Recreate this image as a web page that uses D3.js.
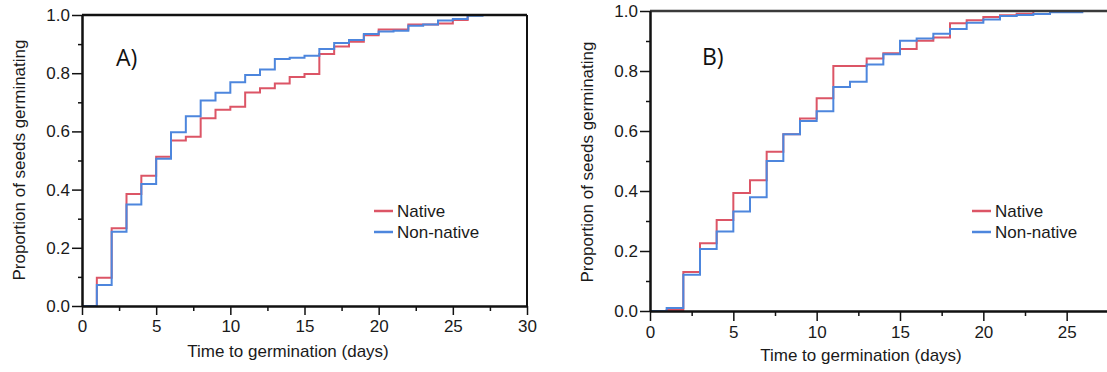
<!DOCTYPE html>
<html>
<head>
<meta charset="utf-8">
<script src="https://cdn.jsdelivr.net/npm/d3@7"></script>
<style>
body { margin: 0; background: #fff; }
text { font-family: "Liberation Sans", Arial, sans-serif; }
</style>
</head>
<body>
<div id="chart"></div>
<script>
// proportion germinated, value holds from day i to day i+1
var daysA = [0,1,2,3,4,5,6,7,8,9,10,11,12,13,14,15,16,17,18,19,20,21,22,23,24,25,26,27];
var nativeA = [0, 0.097, 0.267, 0.385, 0.448, 0.513, 0.569, 0.582, 0.645, 0.674, 0.685, 0.734, 0.748, 0.765, 0.787, 0.797, 0.866, 0.892, 0.908, 0.930, 0.950, 0.950, 0.967, 0.967, 0.971, 0.983, 1.0];
var nonNativeA = [0, 0.072, 0.255, 0.349, 0.419, 0.506, 0.597, 0.652, 0.706, 0.733, 0.769, 0.794, 0.813, 0.849, 0.853, 0.860, 0.883, 0.904, 0.914, 0.935, 0.943, 0.946, 0.963, 0.967, 0.981, 0.986, 0.997, 1.0];
var nativeB = [0, 0.003, 0.130, 0.226, 0.303, 0.393, 0.436, 0.531, 0.589, 0.642, 0.709, 0.817, 0.817, 0.842, 0.859, 0.873, 0.901, 0.912, 0.959, 0.969, 0.980, 0.986, 0.991, 1.0];
var nonNativeB = [0, 0.010, 0.121, 0.207, 0.265, 0.332, 0.379, 0.500, 0.589, 0.633, 0.666, 0.747, 0.764, 0.822, 0.856, 0.901, 0.908, 0.924, 0.940, 0.961, 0.972, 0.983, 0.987, 0.990, 0.996, 0.996];

var xMajor = [0, 5, 10, 15, 20, 25, 30];
var xMinor = [2.5, 7.5, 12.5, 17.5, 22.5, 27.5];
var yMajor = [0, 0.2, 0.4, 0.6, 0.8, 1.0];
var yMinor = [0.1, 0.3, 0.5, 0.7, 0.9];
var seriesNames = ["Native", "Non-native"];
var colors = ["#dc5566", "#4d86dd"];

var W = 1107, H = 372;
var svg = d3.select('#chart').append('svg').attr('width', W).attr('height', H);

function steps(vals) {
  var pts = vals.map(function(v, i) { return [daysA[i], v]; });
  pts.push([daysA[vals.length - 1] + 1, vals[vals.length - 1]]);
  return pts;
}

function panel(opt) {
  var g = svg.append('g');
  var x = d3.scaleLinear().domain([0, 30]).range(opt.xr);
  var y = d3.scaleLinear().domain([0, 1]).range(opt.yr);
  var line = d3.line().x(function(d) { return x(d[0]); }).y(function(d) { return y(d[1]); }).curve(d3.curveStepAfter);
  // B runs past the right edge of the page, only keep ticks that show
  var inView = function(d) { return x(d) < W - 8; };

  [opt.native, opt.nonNative].forEach(function(vals, i) {
    g.append('path').datum(steps(vals))
      .attr('d', line)
      .attr('fill', 'none')
      .attr('stroke', colors[i])
      .attr('stroke-width', 2);
  });

  // frame top (and right in A)
  g.append('line').attr('x1', x(0)).attr('x2', Math.min(x(30), W)).attr('y1', y(1)).attr('y2', y(1))
    .attr('stroke', opt.topColor).attr('stroke-width', 2.5);
  if (opt.rightLine) {
    g.append('line').attr('x1', x(30)).attr('x2', x(30)).attr('y1', y(1)).attr('y2', y(0))
      .attr('stroke', '#111').attr('stroke-width', 2);
  }

  // axes
  g.append('g').attr('transform', 'translate(0,' + y(0) + ')')
    .call(d3.axisBottom(x).tickValues(xMajor.filter(inView)).tickSize(opt.xTick).tickSizeOuter(0).tickPadding(5).tickFormat(d3.format('d')));
  g.append('g').attr('transform', 'translate(0,' + y(0) + ')')
    .call(d3.axisBottom(x).tickValues(xMinor.filter(inView)).tickSize(5).tickSizeOuter(0).tickFormat(''));
  g.append('g').attr('transform', 'translate(' + x(0) + ',0)')
    .call(d3.axisLeft(y).tickValues(yMajor).tickSize(10).tickSizeOuter(0).tickPadding(2).tickFormat(d3.format('.1f')));
  g.append('g').attr('transform', 'translate(' + x(0) + ',0)')
    .call(d3.axisLeft(y).tickValues(yMinor).tickSize(4).tickSizeOuter(0).tickFormat(''));
  g.selectAll('.domain').attr('stroke', '#111').attr('stroke-width', 2);
  g.selectAll('.tick line').attr('stroke', '#111').attr('stroke-width', 1.5);
  g.selectAll('.tick text').attr('fill', '#1a1a1a').style('font-size', '17px').style('font-family', '"Liberation Sans", Arial, sans-serif');

  // titles
  g.append('text').attr('x', opt.xTitle[0]).attr('y', opt.xTitle[1])
    .attr('text-anchor', 'middle').style('font-size', '17px').attr('fill', '#1a1a1a')
    .text('Time to germination (days)');
  g.append('text').attr('transform', 'translate(' + opt.yTitle[0] + ',' + opt.yTitle[1] + ') rotate(-90)')
    .attr('text-anchor', 'middle').style('font-size', '17px').attr('fill', '#1a1a1a')
    .text('Proportion of seeds germinating');
  g.append('text').attr('x', opt.label[0]).attr('y', opt.label[1])
    .style('font-family', '"Open Sans", sans-serif').style('font-size', '23px').attr('fill', '#111')
    .text(opt.name);

  // legend
  seriesNames.forEach(function(n, i) {
    var ly = opt.legend[1] + i * 21;
    g.append('line').attr('x1', opt.legend[0]).attr('x2', opt.legend[0] + 19).attr('y1', ly).attr('y2', ly)
      .attr('stroke', colors[i]).attr('stroke-width', 2.5);
    g.append('text').attr('x', opt.legend[0] + 23).attr('y', ly + 6)
      .style('font-size', '17px').attr('fill', '#1a1a1a').text(n);
  });
}

panel({ name: 'A)', native: nativeA, nonNative: nonNativeA, xr: [82, 527], yr: [306, 15],
  xTick: 9, topColor: '#111', rightLine: true,
  xTitle: [288, 357], yTitle: [25, 160], label: [116, 66], legend: [374, 211] });
panel({ name: 'B)', native: nativeB, nonNative: nonNativeB, xr: [650, 1150], yr: [311, 11],
  xTick: 10, topColor: '#3a3a3a', rightLine: false,
  xTitle: [861, 361], yTitle: [593, 162], label: [702, 65], legend: [972, 211] });
</script>
</body>
</html>
